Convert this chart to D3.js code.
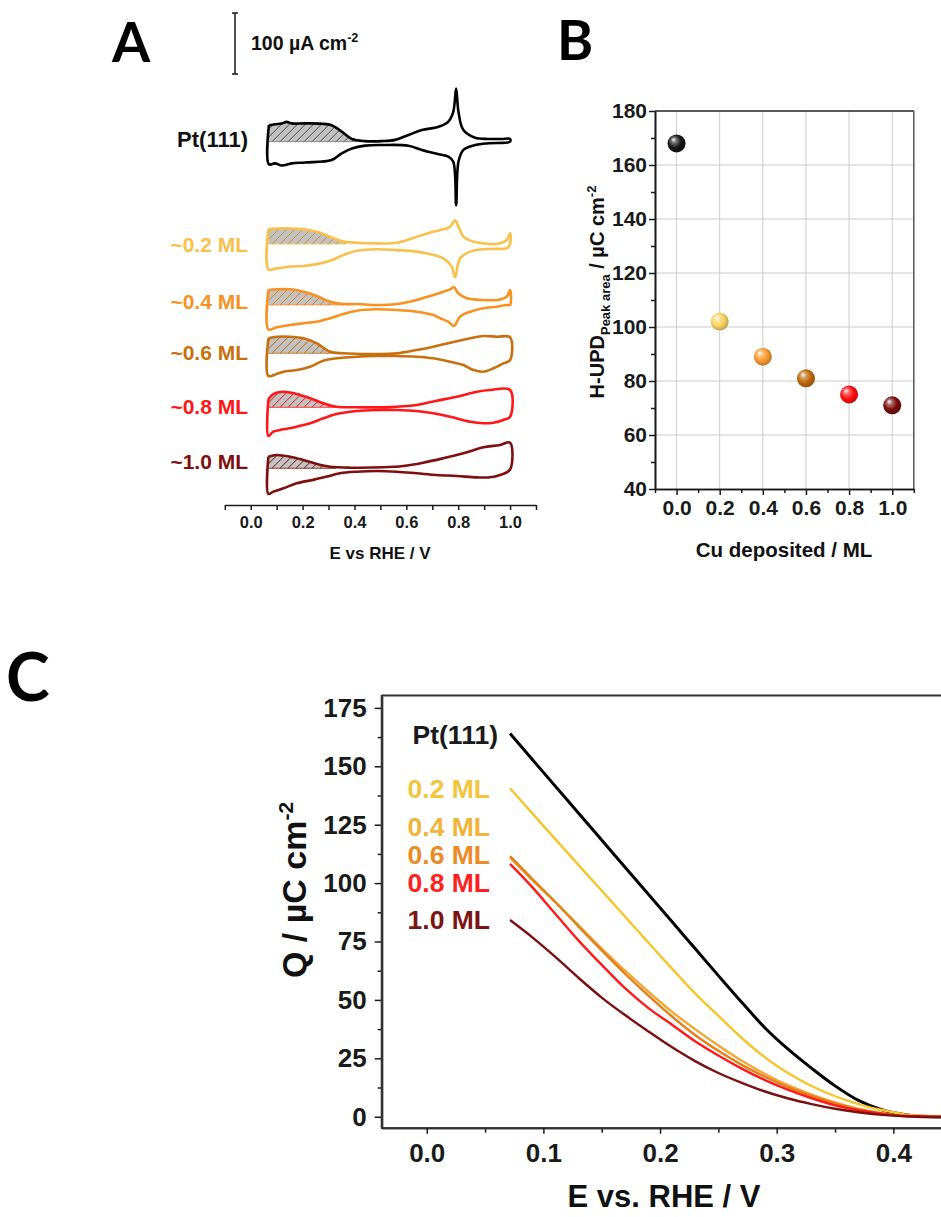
<!DOCTYPE html>
<html>
<head>
<meta charset="utf-8">
<script src="https://cdn.jsdelivr.net/npm/d3@7"></script>
<style>
  body { margin: 0; background: #fff; }
  text { font-family: "Liberation Sans", Arial, sans-serif; font-weight: bold; }
</style>
</head>
<body>
<svg id="fig" width="941" height="1217"></svg>
<script>
// ---------- data ----------
// Panel A: cyclic voltammograms, [E / V vs RHE, j / uA cm-2 relative to double layer]
var cvNames = ["Pt(111)", "~0.2 ML", "~0.4 ML", "~0.6 ML", "~0.8 ML", "~1.0 ML"];
var cvColors = ["#000000", "#f9c04a", "#f8911e", "#c9700e", "#ff1616", "#7e0f0f"];

var cvAnodic = [
  [[.07,27],[.094,28.5],[.12,30],[.139,32.5],[.158,30],[.21,30],[.274,29.5],[.312,27],[.351,16.5],[.39,4.5],[.441,1],[.505,1],[.557,3],[.608,11],[.66,19],[.724,24.5],[.762,33],[.781,49],[.792,87],[.801,49],[.82,19],[.865,6.5],[.916,4.5],[.968,4.5],[1.0,4.5]],
  [[.068,24],[.10,25.5],[.152,25.5],[.203,24],[.255,20],[.306,12],[.357,4],[.409,2],[.486,1],[.563,2],[.64,12],[.704,20],[.743,24],[.769,28.5],[.788,39],[.801,28.5],[.82,12],[.846,5.5],[.897,1],[.949,0],[.987,6.5],[1.0,17.5]],
  [[.068,24.6],[.10,25.7],[.152,25.7],[.203,21.8],[.255,14.8],[.306,5.4],[.357,1.6],[.409,1.6],[.486,0],[.563,1.6],[.64,8.2],[.704,16.4],[.743,21.8],[.769,25.7],[.784,29],[.80,19.2],[.833,11],[.897,8.2],[.949,8.2],[.987,13.6],[1.0,24.6]],
  [[.068,24.6],[.10,27.2],[.152,27.2],[.203,24.6],[.255,16.4],[.306,2.6],[.357,0],[.486,-1.1],[.563,0],[.64,5.4],[.704,10.8],[.769,17.4],[.846,24.6],[.897,28.4],[.949,27.2],[1.0,26.2]],
  [[.068,13.1],[.087,21.8],[.126,25.6],[.177,21.8],[.229,14.8],[.28,6.6],[.33,1],[.409,0],[.563,1],[.64,3.8],[.717,10.8],[.794,17.4],[.872,25.6],[.923,28.4],[1.0,28.4]],
  [[.068,19],[.10,21.8],[.152,19],[.203,13.6],[.255,7],[.306,2.6],[.383,1],[.511,1.6],[.588,3.8],[.665,9.2],[.742,16.4],[.82,24.6],[.897,34.4],[.961,38.2],[1.0,42]]
];
var cvCathodic = [
  [[1.0,0],[.916,-2.5],[.865,-5.5],[.82,-13.5],[.801,-33],[.792,-104],[.781,-33],[.762,-24.5],[.724,-20.5],[.66,-13.5],[.608,-6.5],[.505,-5.5],[.441,-6.5],[.39,-11],[.351,-19],[.312,-30],[.21,-34],[.158,-35.5],[.12,-39],[.094,-35.5],[.07,-37]],
  [[1.0,0],[.987,-7],[.949,-8],[.897,-8.5],[.846,-12.5],[.807,-23.5],[.788,-54.5],[.775,-37],[.743,-23.5],[.704,-18],[.64,-12.5],[.563,-10],[.486,-8.5],[.409,-11],[.357,-18],[.306,-27.5],[.255,-33],[.203,-36],[.152,-37],[.10,-40],[.068,-41.5]],
  [[1.0,0],[.987,0],[.949,-2.8],[.897,-5.4],[.846,-11],[.807,-19.2],[.784,-34.4],[.762,-27.4],[.730,-21.8],[.704,-16.4],[.64,-11],[.563,-8.2],[.486,-7],[.409,-9.3],[.357,-14.8],[.306,-21.8],[.255,-27.4],[.203,-30],[.152,-32.8],[.10,-36.6],[.068,-39.9]],
  [[1.0,-11],[.974,-16.4],[.936,-24.6],[.897,-30.2],[.859,-27.4],[.82,-19.2],[.769,-13.8],[.704,-8.2],[.64,-5.6],[.563,-4.4],[.486,-4.4],[.409,-5.6],[.332,-8.2],[.28,-12.1],[.229,-22],[.177,-27.4],[.126,-30.2],[.10,-33.9],[.068,-37.2]],
  [[1.0,-15.4],[.974,-20.8],[.936,-25.2],[.897,-26.2],[.846,-23.6],[.769,-15.4],[.704,-9.8],[.64,-6.1],[.563,-4.4],[.486,-4.4],[.409,-6.1],[.33,-11],[.28,-18],[.229,-26.2],[.177,-31.8],[.126,-36.1],[.087,-40],[.068,-47]],
  [[1.0,-2],[.961,-11],[.923,-14.8],[.872,-14.8],[.794,-12.6],[.717,-11],[.64,-8.2],[.563,-5.6],[.486,-4.4],[.409,-5.6],[.344,-8.2],[.293,-13.6],[.241,-19],[.177,-24.6],[.126,-32.8],[.087,-38.3],[.068,-42]]
];
// upper potential limit of the shaded H-UPD region
var hatchEnd = [0.41, 0.37, 0.36, 0.33, 0.36, 0.33];
var axisATicks = [-0.1, 0, 0.1, 0.2, 0.3, 0.4, 0.5, 0.6, 0.7, 0.8, 0.9, 1.0, 1.1];

// Panel B: H-UPD charge vs Cu coverage
var cuDeposited = [0.0, 0.2, 0.4, 0.6, 0.8, 1.0];
var hupdArea = [168, 102, 89, 81, 75, 71];
var sphereColors = ["#151515", "#f9d262", "#f79a30", "#c06808", "#ff0d0d", "#7a0b0b"];

// Panel C: integrated charge Q / uC cm-2 vs E / V
var qNames = ["Pt(111)", "0.2 ML", "0.4 ML", "0.6 ML", "0.8 ML", "1.0 ML"];
var qColors = ["#000000", "#f6c42c", "#f4a536", "#e2801a", "#ff1a1a", "#7a1010"];
var qLabelColors = ["#1a1a1a", "#f2c53d", "#f1b43a", "#ec8b26", "#ff1f1f", "#7d1414"];
var qSeries = [
  [[.0714,164],[.10,147.4],[.13,130],[.16,112.6],[.19,95.2],[.22,77.8],[.25,60.4],[.27,49],[.29,38],[.31,28.8],[.33,20.7],[.35,13.2],[.37,7],[.39,3],[.41,0.9],[.43,0.1],[.45,0]],
  [[.0714,140.6],[.10,124.5],[.13,107.8],[.16,91.2],[.19,74.5],[.21,63.5],[.23,52.8],[.25,43.2],[.27,33.7],[.29,25.4],[.30,21.8],[.32,15.7],[.34,10.8],[.36,7],[.38,4],[.40,1.9],[.415,0.6],[.45,0]],
  [[.0714,111],[.09,101.5],[.11,92],[.13,82],[.15,72],[.17,62.5],[.19,53.5],[.21,45],[.23,37.5],[.25,30.5],[.27,24],[.29,18.3],[.31,13.4],[.33,9.5],[.35,6.1],[.37,3.4],[.39,1.5],[.41,0.3],[.45,0]],
  [[.0714,111.5],[.09,102],[.11,92],[.13,81.5],[.15,71.2],[.17,61.2],[.19,51.8],[.21,43],[.23,35],[.25,28.2],[.27,22.2],[.29,17.1],[.31,12.6],[.33,8.9],[.35,5.7],[.37,3.1],[.39,1.4],[.41,0.3],[.45,0]],
  [[.0714,108.2],[.09,98.5],[.11,87],[.13,75.5],[.15,65],[.17,55],[.19,46.5],[.21,39.5],[.23,32.3],[.25,26.2],[.27,20.6],[.29,15.7],[.31,11.5],[.33,7.9],[.35,4.9],[.37,2.8],[.39,1.3],[.41,0.3],[.45,0]],
  [[.0714,84.2],[.09,77],[.11,68.5],[.13,59.5],[.15,51],[.17,43.5],[.19,36.5],[.21,29.8],[.23,23.8],[.25,18.7],[.27,14.5],[.29,10.8],[.31,7.8],[.33,5.4],[.35,3.4],[.37,1.9],[.39,0.8],[.42,0],[.47,-0.4]]
];
var qTicks = [0, 25, 50, 75, 100, 125, 150, 175];
var qMinorTicks = [12.5, 37.5, 62.5, 87.5, 112.5, 137.5, 162.5];
var eTicksC = [0, 0.1, 0.2, 0.3, 0.4];
var eMinorTicksC = [0.05, 0.15, 0.25, 0.35, 0.45];

// ---------- layout ----------
var FONT = '"Liberation Sans", Arial, sans-serif';
var cvBaseY = [141.7, 244, 305, 353.3, 407.3, 468.3];
var cvLabelY = [139, 245, 302, 353, 407, 462];
var qLabelY = [735, 789, 827, 855, 883, 920];
var qLabelX = [498, 490, 490, 490, 490, 490];

var svg = d3.select("#fig");
svg.append("rect").attr("width", 941).attr("height", 1217).attr("fill", "#fff");
var defs = svg.append("defs");

function panelLetter(t, x, y, size) {
  svg.append("text").attr("x", x).attr("y", y).text(t)
    .style("font-family", "Lato, 'Open Sans', sans-serif")
    .attr("font-size", size).attr("font-weight", 900).attr("fill", "#000");
}
function styleAxis(g, size) {
  g.attr("font-family", FONT).attr("font-size", size).attr("font-weight", "bold")
    .style("color", "#1a1a1a");
  g.selectAll(".tick line").attr("stroke-width", 1.5);
  g.select(".domain").attr("stroke-width", 1.6);
}

// ========== Panel A ==========
panelLetter("A", 112, 62, 55);
var xA = d3.scaleLinear().domain([-0.1, 1.1]).range([224.8, 536]);
var jA = d3.scaleLinear().domain([0, 100]).range([0, -61]);

// scale bar 100 uA cm-2
var barG = svg.append("g").attr("transform", "translate(235,74)");
barG.append("line").attr("x1", 0).attr("x2", 0).attr("y1", jA(0)).attr("y2", jA(100))
  .attr("stroke", "#222").attr("stroke-width", 1.6);
[0, 100].forEach(function (v) {
  barG.append("line").attr("x1", -3).attr("x2", 3).attr("y1", jA(v)).attr("y2", jA(v))
    .attr("stroke", "#222").attr("stroke-width", 1.6);
});
var barT = svg.append("text").attr("x", 251).attr("y", 50).attr("font-size", 19.5).attr("fill", "#111");
barT.append("tspan").text("100 \u00b5A cm");
barT.append("tspan").attr("dy", -8).attr("font-size", 12.5).text("-2");

var cvLine = d3.line().x(function (d) { return xA(d[0]); }).y(function (d) { return jA(d[1]); })
  .curve(d3.curveCatmullRom.alpha(0.5));
var hatchArea = d3.area().x(function (d) { return xA(d[0]); }).y0(0)
  .y1(function (d) { return jA(Math.max(0, d[1])); })
  .curve(d3.curveCatmullRom.alpha(0.5));

cvNames.forEach(function (name, i) {
  var col = cvColors[i];
  var hatchCol = i === 0 ? "#4a4a4a" : d3.color(col).darker(i === 1 ? 0.7 : 0.3).formatHex();
  var pat = defs.append("pattern").attr("id", "hatch" + i).attr("patternUnits", "userSpaceOnUse")
    .attr("width", 8).attr("height", 8);
  pat.append("rect").attr("width", 8).attr("height", 8).attr("fill", "#c2c2c2");
  pat.append("path").attr("d", "M-1,9 L9,-1 M-1,1 L1,-1 M7,9 L9,7")
    .attr("stroke", hatchCol).attr("stroke-width", 1);

  var g = svg.append("g").attr("transform", "translate(0," + cvBaseY[i] + ")");
  var an = cvAnodic[i];
  var hp = an.filter(function (d) { return d[0] <= hatchEnd[i]; });
  hp.push([hatchEnd[i], 0]);
  g.append("path").attr("d", hatchArea(hp)).attr("fill", "url(#hatch" + i + ")");
  g.append("line").attr("x1", xA(an[0][0])).attr("x2", xA(hatchEnd[i]))
    .attr("y1", 0).attr("y2", 0).attr("stroke", i === 0 ? "#777" : col).attr("stroke-width", 0.8);

  var loop = an.concat(cvCathodic[i], [an[0]]);
  g.append("path").attr("d", cvLine(loop)).attr("fill", "none")
    .attr("stroke", col).attr("stroke-width", 2.6).attr("stroke-linejoin", "round");

  svg.append("text").attr("x", 248).attr("y", cvLabelY[i]).attr("dy", "0.35em")
    .attr("text-anchor", "end").attr("font-size", i === 0 ? 22 : 21).attr("fill", i === 0 ? "#111" : col)
    .text(name);
});

var axA = svg.append("g").attr("transform", "translate(0,505)")
  .call(d3.axisBottom(xA).tickValues(axisATicks).tickSize(5).tickSizeOuter(0).tickPadding(6)
    .tickFormat(function (d) {
      var k = Math.round(d * 10);
      return (k >= 0 && k <= 10 && k % 2 === 0) ? d3.format(".1f")(d) : "";
    }));
styleAxis(axA, 16.5);
svg.append("text").attr("x", 380).attr("y", 559).attr("text-anchor", "middle")
  .attr("font-size", 17).attr("fill", "#111").text("E vs RHE / V");

// ========== Panel B ==========
panelLetter("B", 557, 60, 55);
var xB = d3.scaleLinear().domain([-0.1, 1.1]).range([655, 913.8]);
var yB = d3.scaleLinear().domain([40, 180]).range([489, 111]);
var gB = svg.append("g");
var cuMajor = [0, 0.2, 0.4, 0.6, 0.8, 1.0];
var cuMinor = [-0.1, 0.1, 0.3, 0.5, 0.7, 0.9, 1.1];
var hMajor = [40, 60, 80, 100, 120, 140, 160, 180];
var hMinor = [50, 70, 90, 110, 130, 150, 170];

gB.selectAll(".vgrid").data(cuMajor).enter().append("line")
  .attr("x1", function (d) { return xB(d); }).attr("x2", function (d) { return xB(d); })
  .attr("y1", yB(40)).attr("y2", yB(180)).attr("stroke", "#cccccc").attr("stroke-width", 1);
gB.selectAll(".hgrid").data(hMajor.slice(1, -1)).enter().append("line")
  .attr("y1", function (d) { return yB(d); }).attr("y2", function (d) { return yB(d); })
  .attr("x1", xB(-0.1)).attr("x2", xB(1.1)).attr("stroke", "#cccccc").attr("stroke-width", 1);
gB.append("line").attr("x1", xB(-0.1)).attr("x2", xB(1.1)).attr("y1", yB(180)).attr("y2", yB(180))
  .attr("stroke", "#222").attr("stroke-width", 1.5);
gB.append("line").attr("x1", xB(1.1)).attr("x2", xB(1.1)).attr("y1", yB(180)).attr("y2", yB(40))
  .attr("stroke", "#555").attr("stroke-width", 1.5);

var bxMin = gB.append("g").attr("transform", "translate(0,489)")
  .call(d3.axisBottom(xB).tickValues(cuMinor).tickSize(4).tickSizeOuter(0).tickFormat(""));
styleAxis(bxMin, 21);
var bx = gB.append("g").attr("transform", "translate(0,489)")
  .call(d3.axisBottom(xB).tickValues(cuMajor).tickSize(6).tickSizeOuter(0).tickPadding(5)
    .tickFormat(d3.format(".1f")));
styleAxis(bx, 21);
var byMin = gB.append("g").attr("transform", "translate(655,0)")
  .call(d3.axisLeft(yB).tickValues(hMinor).tickSize(4).tickSizeOuter(0).tickFormat(""));
styleAxis(byMin, 21);
var by = gB.append("g").attr("transform", "translate(655,0)")
  .call(d3.axisLeft(yB).tickValues(hMajor).tickSize(6).tickSizeOuter(0).tickPadding(2));
styleAxis(by, 21);

sphereColors.forEach(function (c, i) {
  var rg = defs.append("radialGradient").attr("id", "ball" + i)
    .attr("cx", "45%").attr("cy", "45%").attr("r", "60%").attr("fx", "32%").attr("fy", "28%");
  rg.append("stop").attr("offset", "0%").attr("stop-color", "#ffffff");
  rg.append("stop").attr("offset", "25%").attr("stop-color", d3.interpolateRgb("#ffffff", c)(0.6));
  rg.append("stop").attr("offset", "60%").attr("stop-color", c);
  rg.append("stop").attr("offset", "100%").attr("stop-color", d3.color(c).darker(0.9));
});
gB.selectAll(".ball").data(hupdArea).enter().append("circle")
  .attr("cx", function (d, i) { return xB(cuDeposited[i]); })
  .attr("cy", function (d) { return yB(d); })
  .attr("r", 9)
  .attr("fill", function (d, i) { return "url(#ball" + i + ")"; });

svg.append("text").attr("x", 784).attr("y", 557).attr("text-anchor", "middle")
  .attr("font-size", 20.5).attr("fill", "#111").text("Cu deposited / ML");
var yLabB = svg.append("text").attr("transform", "translate(604,292) rotate(-90)")
  .attr("text-anchor", "middle").attr("font-size", 20).attr("fill", "#111");
yLabB.append("tspan").text("H-UPD");
yLabB.append("tspan").attr("dy", 6).attr("font-size", 13).text("Peak area");
yLabB.append("tspan").attr("dy", -6).text(" / \u00b5C cm");
yLabB.append("tspan").attr("dy", -8).attr("font-size", 13).text("-2");

// ========== Panel C ==========
panelLetter("C", 6, 701, 66);
var xC = d3.scaleLinear().domain([-0.0386, 0.48]).range([381.7, 986.7]);
var yC = d3.scaleLinear().domain([-5, 180]).range([1128.4, 696.2]);

var gC = svg.append("g");
gC.append("line").attr("x1", xC(-0.0386)).attr("x2", 941).attr("y1", 695.5).attr("y2", 695.5)
  .attr("stroke", "#333").attr("stroke-width", 2);

var cxMin = gC.append("g").attr("transform", "translate(0,1127.7)")
  .call(d3.axisBottom(xC).tickValues(eMinorTicksC).tickSize(5).tickSizeOuter(0).tickFormat(""));
styleAxis(cxMin, 26);
var cx = gC.append("g").attr("transform", "translate(0,1127.7)")
  .call(d3.axisBottom(xC).tickValues(eTicksC).tickSize(6).tickSizeOuter(0).tickPadding(10)
    .tickFormat(d3.format(".1f")));
styleAxis(cx, 26);
var cyMin = gC.append("g").attr("transform", "translate(381.7,0)")
  .call(d3.axisLeft(yC).tickValues(qMinorTicks).tickSize(4).tickSizeOuter(0).tickFormat(""));
styleAxis(cyMin, 26);
var cy = gC.append("g").attr("transform", "translate(381.7,0)")
  .call(d3.axisLeft(yC).tickValues(qTicks).tickSize(7).tickSizeOuter(0).tickPadding(8));
styleAxis(cy, 26);
gC.selectAll(".domain").attr("stroke", "#333").attr("stroke-width", 2);
// keep the left axis running up to the top frame
gC.append("line").attr("x1", 381.7).attr("x2", 381.7).attr("y1", 695).attr("y2", 1128.4)
  .attr("stroke", "#333").attr("stroke-width", 2);

var qLine = d3.line().x(function (d) { return xC(d[0]); }).y(function (d) { return yC(d[1]); })
  .curve(d3.curveMonotoneX);
qSeries.forEach(function (s, i) {
  gC.append("path").attr("d", qLine(s)).attr("fill", "none")
    .attr("stroke", qColors[i]).attr("stroke-width", i === 0 ? 3 : 2.4);
  gC.append("text").attr("x", qLabelX[i]).attr("y", qLabelY[i]).attr("dy", "0.35em")
    .attr("text-anchor", "end").attr("font-size", 26.5).attr("fill", qLabelColors[i])
    .text(qNames[i]);
});

svg.append("text").attr("x", 664).attr("y", 1207).attr("text-anchor", "middle")
  .attr("font-size", 31).attr("fill", "#111").text("E vs. RHE / V");
var yLabC = svg.append("text").attr("transform", "translate(306,890) rotate(-90)")
  .attr("text-anchor", "middle").attr("font-size", 34).attr("fill", "#111");
yLabC.append("tspan").text("Q / \u00b5C cm");
yLabC.append("tspan").attr("dy", -13).attr("font-size", 21).text("-2");
</script>
</body>
</html>
